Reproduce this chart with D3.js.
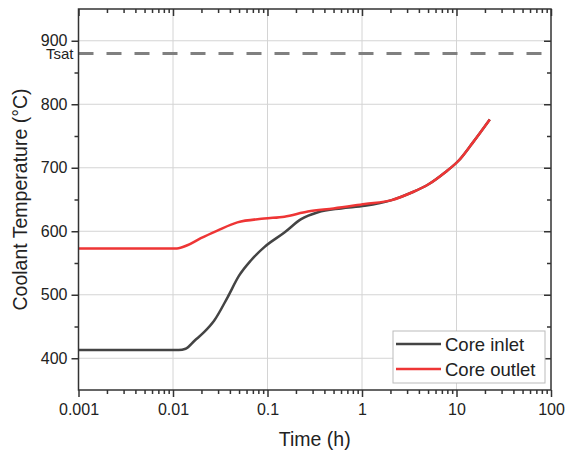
<!DOCTYPE html>
<html>
<head>
<meta charset="utf-8">
<script src="https://cdn.jsdelivr.net/npm/d3@7"></script>
<style>
  body { margin: 0; background: #fff; }
  svg text { font-family: Arial, "Liberation Sans", sans-serif; fill: #222; }
</style>
</head>
<body>
<div id="chart"></div>
<script>
// data
var inletTime = [0.001, 0.005, 0.0115, 0.0136, 0.017, 0.0213, 0.0272, 0.0378, 0.05, 0.0667, 0.0925, 0.151, 0.227, 0.342, 0.6, 1.07, 2.06, 3.36, 5.06, 7.6, 10.5, 14.6, 22.5];
var inletTemp = [413, 413, 413, 415, 428, 441, 459, 496, 530, 554, 575, 598, 619, 630, 636, 640, 649, 661, 674, 693, 711, 738, 776];
var outletTime = [0.001, 0.005, 0.011, 0.0142, 0.0197, 0.0295, 0.048, 0.0925, 0.151, 0.267, 0.5, 1.07, 2.06, 3.36, 5.06, 7.6, 10.5, 14.6, 22.5];
var outletTemp = [573, 573, 573, 578, 589, 601, 614, 620, 623, 631, 636, 643, 649, 661, 674, 693, 711, 738, 776];
var xTicks = [0.001, 0.01, 0.1, 1, 10, 100];
var yTicks = [400, 500, 600, 700, 800, 900];
var yMinor = [450, 550, 650, 750, 850];
var tsat = 880;
var seriesNames = ["Core inlet", "Core outlet"];
var seriesColors = ["#444444", "#ee3535"];

var margin = {top: 9, right: 20, bottom: 60, left: 78.5},
    width = 571, height = 450,
    w = width - margin.left - margin.right,
    h = height - margin.top - margin.bottom;

var svg = d3.select("#chart").append("svg")
    .attr("width", width)
    .attr("height", height)
  .append("g")
    .attr("transform", "translate(" + margin.left + "," + margin.top + ")");

var x = d3.scaleLog().domain([0.001, 100]).range([0, w]);
var y = d3.scaleLinear().domain([350, 950]).range([h, 0]);

// minor ticks of the log axis
var xMinor = [];
for (var e = -3; e < 2; e++) {
  for (var k = 2; k < 10; k++) xMinor.push(k * Math.pow(10, e));
}

// grid
svg.append("g").selectAll("line")
    .data(xTicks.slice(1, -1))
  .enter().append("line")
    .attr("x1", function(d) { return x(d); })
    .attr("x2", function(d) { return x(d); })
    .attr("y1", 0).attr("y2", h)
    .attr("stroke", "#d4d4d4").attr("stroke-width", 1);
svg.append("g").selectAll("line")
    .data(yTicks)
  .enter().append("line")
    .attr("x1", 0).attr("x2", w)
    .attr("y1", function(d) { return y(d); })
    .attr("y2", function(d) { return y(d); })
    .attr("stroke", "#d4d4d4").attr("stroke-width", 1);

// Tsat line
svg.append("line")
    .attr("x1", 0).attr("x2", w)
    .attr("y1", y(tsat)).attr("y2", y(tsat))
    .attr("stroke", "#808080").attr("stroke-width", 3)
    .attr("stroke-dasharray", "15,13");
svg.append("text")
    .attr("x", -5).attr("y", y(tsat) + 6)
    .attr("text-anchor", "end")
    .attr("font-size", "15px")
    .text("Tsat");

// lines
var line = d3.line()
    .x(function(d) { return x(d[0]); })
    .y(function(d) { return y(d[1]); })
    .curve(d3.curveMonotoneX);

var inlet = inletTime.map(function(t, i) { return [t, inletTemp[i]]; });
var outlet = outletTime.map(function(t, i) { return [t, outletTemp[i]]; });

svg.append("path").datum(inlet)
    .attr("d", line).attr("fill", "none")
    .attr("stroke", seriesColors[0]).attr("stroke-width", 2.5);
svg.append("path").datum(outlet)
    .attr("d", line).attr("fill", "none")
    .attr("stroke", seriesColors[1]).attr("stroke-width", 2.5);

// axes
function styleAxis(g) {
  g.select(".domain").remove();
  g.selectAll("line").attr("stroke", "#333").attr("stroke-width", 1.5);
  g.selectAll("text").attr("font-size", "16px").attr("fill", "#222");
}

svg.append("g")
    .attr("transform", "translate(0," + h + ")")
    .call(d3.axisBottom(x).tickValues(xTicks).tickSize(7).tickPadding(7)
      .tickFormat(function(d) { return String(d); }))
    .call(styleAxis);
svg.append("g")
    .attr("transform", "translate(0," + h + ")")
    .call(d3.axisBottom(x).tickValues(xMinor).tickSize(4).tickFormat(""))
    .call(styleAxis);
// top ticks point down
svg.append("g")
    .call(d3.axisBottom(x).tickValues(xTicks).tickSize(7).tickFormat(""))
    .call(styleAxis);
svg.append("g")
    .call(d3.axisBottom(x).tickValues(xMinor).tickSize(4).tickFormat(""))
    .call(styleAxis);

svg.append("g")
    .call(d3.axisLeft(y).tickValues(yTicks).tickSize(7).tickPadding(4))
    .call(styleAxis);
svg.append("g")
    .call(d3.axisLeft(y).tickValues(yMinor).tickSize(4).tickFormat(""))
    .call(styleAxis);
// right ticks point left
svg.append("g")
    .attr("transform", "translate(" + w + ",0)")
    .call(d3.axisLeft(y).tickValues(yTicks).tickSize(7).tickFormat(""))
    .call(styleAxis);
svg.append("g")
    .attr("transform", "translate(" + w + ",0)")
    .call(d3.axisLeft(y).tickValues(yMinor).tickSize(4).tickFormat(""))
    .call(styleAxis);

// frame
svg.append("rect")
    .attr("width", w).attr("height", h)
    .attr("fill", "none").attr("stroke", "#333").attr("stroke-width", 1.5);

// axis titles
svg.append("text")
    .attr("x", w / 2).attr("y", h + 56)
    .attr("text-anchor", "middle")
    .attr("font-size", "19.5px")
    .text("Time (h)");
svg.append("text")
    .attr("transform", "translate(" + (-52) + "," + (h / 2) + ") rotate(-90)")
    .attr("text-anchor", "middle")
    .attr("font-size", "19.5px")
    .text("Coolant Temperature (\u00B0C)");

// legend
var lg = svg.append("g")
    .attr("transform", "translate(" + (393 - margin.left) + "," + (331 - margin.top) + ")");
lg.append("rect")
    .attr("width", 152).attr("height", 52)
    .attr("fill", "#fff").attr("stroke", "#bbb").attr("stroke-width", 1);
seriesNames.forEach(function(name, i) {
  lg.append("line")
      .attr("x1", 3).attr("x2", 48)
      .attr("y1", 13 + i * 25).attr("y2", 13 + i * 25)
      .attr("stroke", seriesColors[i]).attr("stroke-width", 2.5);
  lg.append("text")
      .attr("x", 52).attr("y", 20 + i * 25)
      .attr("font-size", "18.5px")
      .text(name);
});
</script>
</body>
</html>
